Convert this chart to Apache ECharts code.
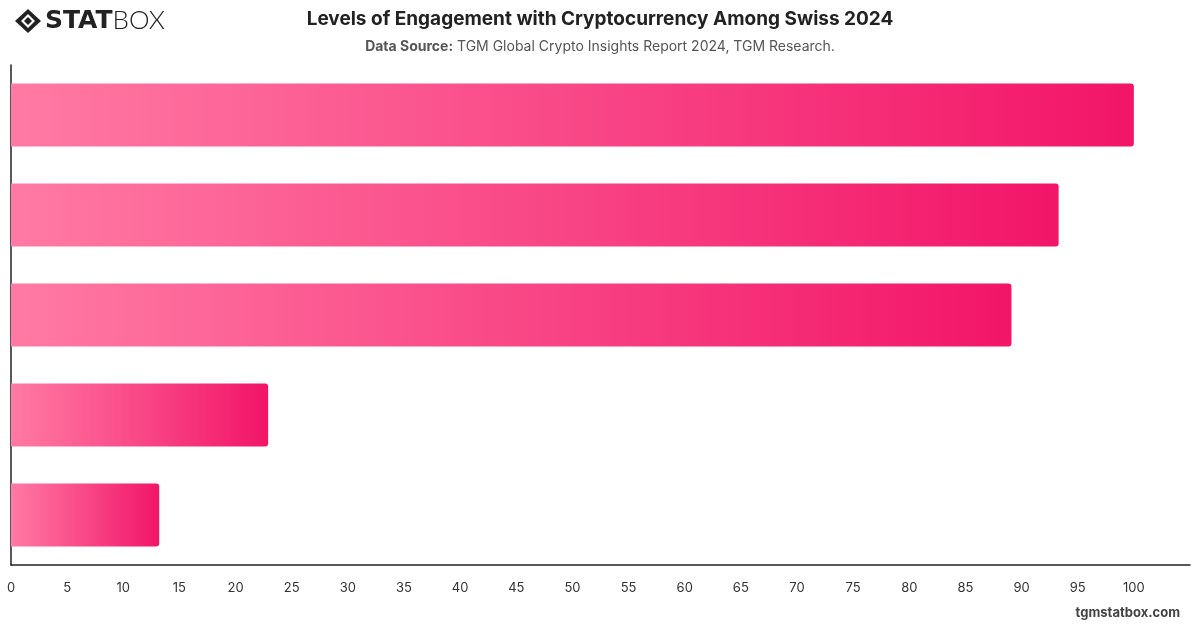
<!DOCTYPE html>
<html>
<head>
<meta charset="utf-8">
<script src="https://cdn.jsdelivr.net/npm/echarts@6/dist/echarts.min.js"></script>
<style>
  html, body { margin: 0; padding: 0; background: #fff; }
  #main { width: 1200px; height: 628px; }
</style>
</head>
<body>
<div id="main"></div>
<script>
var myChart = echarts.init(document.getElementById('main'));

// levels of engagement, top to bottom
let categories = ['Level 1', 'Level 2', 'Level 3', 'Level 4', 'Level 5'];
let values = [100, 93.3, 89.1, 22.9, 13.2];

let font = 'Inter, "Noto Sans", sans-serif';

let barColor = new echarts.graphic.LinearGradient(0, 0, 1, 0, [
    { offset: 0, color: '#ff7aa4' },
    { offset: 1, color: '#f21568' }
]);

let option = {
    animation: false,
    backgroundColor: '#fff',
    grid: {
        left: 11,
        right: 10,
        top: 65,
        bottom: 63
    },
    title: [
        {
            text: 'Levels of Engagement with Cryptocurrency Among Swiss 2024',
            left: 'center',
            top: 5,
            textStyle: { fontFamily: font, fontSize: 19, fontWeight: 'bold', color: '#222' }
        },
        {
            text: '{b|Data Source:} {n|TGM Global Crypto Insights Report 2024, TGM Research.}',
            left: 'center',
            top: 35,
            textStyle: {
                fontFamily: font, fontSize: 14, fontWeight: 'normal', color: '#555',
                rich: {
                    b: { fontFamily: font, fontSize: 14, fontWeight: 'bold', color: '#555' },
                    n: { fontFamily: font, fontSize: 14, fontWeight: 'normal', color: '#555' }
                }
            }
        }
    ],
    graphic: [
        {
            type: 'group',
            left: 15,
            top: 9,
            children: [
                { type: 'polygon', shape: { points: [[13, 0], [26, 12], [13, 24], [0, 12]] },
                  style: { fill: '#222' } },
                { type: 'polygon', shape: { points: [[13, 5], [20, 12], [13, 19], [6, 12]] },
                  style: { fill: '#fff' } },
                { type: 'polygon', shape: { points: [[13, 8], [17, 12], [13, 16], [9, 12]] },
                  style: { fill: '#222' } }
            ]
        },
        {
            type: 'text',
            left: 45,
            top: 8,
            style: {
                text: '{a|STAT}{b|BOX}',
                rich: {
                    a: { fontFamily: '"DejaVu Sans", sans-serif', fontSize: 25, fontWeight: 900, fill: '#222' },
                    b: { fontFamily: 'Lato, sans-serif', fontSize: 26, fontWeight: 300, fill: '#222' }
                }
            }
        },
        {
            type: 'text',
            right: 20,
            top: 607,
            style: { text: 'tgmstatbox.com', fontFamily: font, fontSize: 13, fontWeight: 'bold', fill: '#444' }
        }
    ],
    xAxis: {
        type: 'value',
        min: 0,
        max: 105,
        interval: 5,
        axisLine: { show: true, lineStyle: { color: '#222', width: 1.5 } },
        axisTick: { show: false },
        splitLine: { show: false },
        axisLabel: {
            fontFamily: font, fontSize: 13, color: '#333', margin: 17,
            formatter: function (v) { return v > 100 ? '' : v; }
        }
    },
    yAxis: {
        type: 'category',
        inverse: true,
        data: categories,
        axisLine: { show: true, lineStyle: { color: '#222', width: 1.5 } },
        axisTick: { show: false },
        axisLabel: { show: false }
    },
    series: [
        {
            type: 'bar',
            data: values,
            barWidth: '63%',
            itemStyle: { color: barColor, borderRadius: [0, 3, 3, 0] }
        }
    ]
};

myChart.setOption(option);
</script>
</body>
</html>
